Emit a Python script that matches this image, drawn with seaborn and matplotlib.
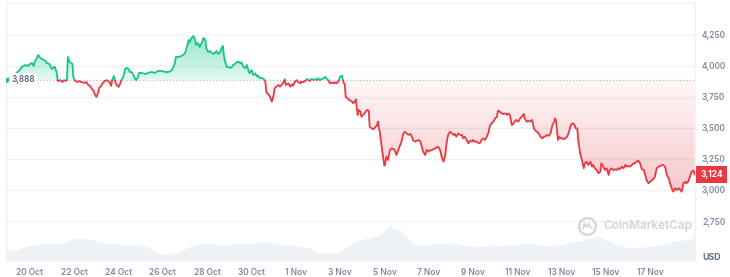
import numpy as np
import pandas as pd
import matplotlib
matplotlib.use("Agg")
import matplotlib.pyplot as plt
import matplotlib.dates as mdates
from matplotlib.patches import Rectangle
from matplotlib.colors import to_rgb
import seaborn as sns

# ---------------- data ----------------
base_date = "2025-10-20 00:00"
hours = [-26, -17, -11, -9, -5, -2, 0, 2, 4, 5, 8, 9, 11, 13, 15, 17, 18, 21, 22, 24, 26, 27, 29, 30, 33, 35, 37, 39, 40,
         41, 43, 46, 47, 49, 51, 53, 55, 59, 61, 63, 65, 67, 69, 70, 72, 74, 75, 77, 79, 81, 83, 86, 88, 89, 91, 93, 96,
         98, 99, 101, 103, 105, 107, 108, 110, 112, 114, 115, 117, 118, 121, 125, 128, 132, 135, 139, 143, 146, 150,
         153, 155, 157, 158, 161, 164, 166, 168, 170, 172, 173, 175, 177, 179, 180, 182, 184, 186, 188, 190, 191, 193,
         195, 197, 199, 200, 202, 204, 206, 208, 209, 210, 211, 213, 215, 217, 219, 220, 222, 224, 226, 228, 229, 231,
         233, 235, 237, 238, 240, 242, 244, 246, 247, 249, 251, 253, 254, 255, 256, 257, 259, 260, 262, 263, 264, 265,
         267, 269, 271, 273, 274, 276, 277, 280, 282, 284, 285, 287, 289, 291, 293, 294, 296, 298, 300, 302, 303, 305,
         307, 309, 311, 312, 314, 316, 318, 320, 321, 323, 325, 327, 329, 331, 332, 334, 336, 338, 340, 341, 342, 345,
         349, 350, 352, 353, 355, 356, 358, 359, 361, 363, 365, 367, 368, 370, 372, 374, 376, 377, 378, 379, 381, 383,
         384, 385, 386, 388, 390, 392, 394, 395, 397, 399, 401, 403, 404, 406, 408, 410, 412, 413, 415, 417, 419, 421,
         423, 424, 426, 428, 430, 432, 433, 435, 437, 439, 441, 442, 444, 446, 448, 450, 451, 453, 455, 457, 459, 460,
         462, 464, 466, 468, 469, 471, 473, 475, 477, 479, 480, 482, 484, 486, 488, 489, 491, 493, 495, 497, 498, 500,
         502, 504, 506, 507, 509, 511, 513, 515, 517, 518, 520, 522, 524, 525, 527, 529, 531, 533, 535, 536, 538, 540,
         542, 544, 546, 547, 549, 551, 553, 555, 557, 558, 560, 562, 564, 566, 568, 569, 570, 572, 573, 575, 577, 578,
         580, 582, 584, 586, 588, 590, 591, 593, 594, 596, 598, 600, 601, 603, 605, 607, 609, 610, 612, 614, 616, 618,
         619, 621, 623, 625, 627, 628, 630, 632, 634, 636, 637, 639, 641, 643, 645, 646, 648, 650, 652, 654, 655, 657,
         659, 661, 663, 665, 666, 668, 670, 672, 674, 676, 677, 679, 681, 683, 685, 686, 688, 690, 692, 694, 696, 697,
         699, 701, 703, 704, 706, 708, 710, 711, 713, 715, 717, 719, 720]
price = [3887, 3927, 3968, 3992, 4008, 4000, 4016, 4024, 4000, 4032, 4073, 4089, 4065, 4056, 4048, 4040, 4024, 4016,
         4000, 3976, 3992, 3992, 3944, 3879, 3887, 3871, 3887, 3879, 3887, 4073, 4032, 4016, 3911, 3879, 3871, 3879,
         3871, 3863, 3871, 3847, 3839, 3815, 3798, 3774, 3750, 3790, 3823, 3839, 3863, 3879, 3887, 3871, 3839, 3887,
         3919, 3855, 3831, 3863, 3887, 3911, 3976, 3984, 3976, 3952, 3952, 3927, 3895, 3887, 3911, 3944, 3944, 3935,
         3944, 3952, 3944, 3960, 3960, 3952, 3952, 3960, 3984, 4024, 4073, 4073, 4081, 4089, 4105, 4153, 4210, 4194,
         4226, 4242, 4210, 4169, 4185, 4153, 4185, 4226, 4210, 4145, 4113, 4121, 4105, 4097, 4105, 4121, 4097, 4113,
         4153, 4161, 4089, 4048, 3992, 3992, 3984, 3992, 4008, 4016, 4030, 4035, 4022, 4030, 3995, 3981, 4008, 3954,
         3941, 3968, 3927, 3941, 3914, 3922, 3901, 3906, 3895, 3887, 3873, 3793, 3780, 3766, 3752, 3712, 3740, 3766,
         3820, 3833, 3847, 3833, 3852, 3860, 3895, 3847, 3860, 3833, 3852, 3841, 3873, 3887, 3868, 3860, 3873, 3868,
         3879, 3895, 3887, 3879, 3895, 3887, 3895, 3887, 3901, 3887, 3895, 3901, 3914, 3901, 3887, 3860, 3868, 3860,
         3868, 3860, 3873, 3914, 3922, 3860, 3855, 3752, 3731, 3712, 3699, 3712, 3731, 3605, 3645, 3632, 3591, 3605,
         3624, 3645, 3640, 3511, 3497, 3489, 3505, 3524, 3551, 3497, 3470, 3349, 3242, 3196, 3215, 3269, 3242, 3323,
         3336, 3328, 3323, 3282, 3323, 3363, 3403, 3444, 3470, 3457, 3444, 3452, 3444, 3403, 3390, 3398, 3403, 3390,
         3363, 3309, 3282, 3323, 3309, 3317, 3323, 3328, 3336, 3344, 3349, 3328, 3269, 3228, 3282, 3363, 3444, 3470,
         3457, 3444, 3452, 3430, 3457, 3444, 3444, 3417, 3430, 3403, 3377, 3398, 3390, 3403, 3390, 3390, 3377, 3382,
         3403, 3417, 3403, 3430, 3470, 3511, 3538, 3551, 3578, 3591, 3640, 3632, 3618, 3613, 3618, 3605, 3618, 3605,
         3524, 3538, 3551, 3565, 3551, 3578, 3591, 3613, 3578, 3551, 3559, 3551, 3565, 3497, 3484, 3470, 3457, 3430,
         3417, 3430, 3430, 3444, 3436, 3457, 3524, 3551, 3578, 3551, 3403, 3430, 3417, 3417, 3409, 3417, 3430, 3470,
         3524, 3538, 3524, 3497, 3497, 3403, 3296, 3242, 3175, 3215, 3228, 3202, 3228, 3188, 3202, 3175, 3161, 3135,
         3148, 3215, 3188, 3161, 3175, 3121, 3161, 3175, 3161, 3167, 3161, 3175, 3167, 3188, 3175, 3202, 3188, 3194,
         3188, 3202, 3215, 3215, 3228, 3236, 3215, 3167, 3161, 3135, 3081, 3054, 3067, 3081, 3094, 3107, 3175, 3188,
         3194, 3202, 3202, 3188, 3121, 3094, 3040, 3000, 2986, 3014, 3000, 3014, 3006, 2986, 3054, 3067, 3054, 3067,
         3107, 3148, 3157, 3124]

vol_hours = [-26, -14, -3, 3, 14, 25, 36, 43, 51, 62, 73, 83, 94, 105, 116, 127, 133, 141, 152, 163, 173, 184, 195,
             206, 217, 228, 238, 249, 260, 271, 282, 293, 303, 314, 325, 336, 347, 358, 368, 379, 387, 390, 393, 401,
             408, 415, 426, 437, 447, 458, 469, 480, 491, 498, 509, 520, 531, 542, 553, 563, 574, 585, 596, 607, 615,
             625, 636, 647, 658, 669, 679, 690, 701, 712, 720]
volume = [10, 10.7, 14, 15, 16.7, 16, 16.7, 20, 21.7, 21, 19, 16.7, 16, 15, 15, 13.3, 10, 6, 6, 9.3, 13.3, 16.7, 17.3,
          15, 16, 16.7, 16, 17.3, 18.3, 16, 15, 13.3, 11.7, 7.3, 6.7, 8.3, 15, 20.7, 21.7, 25, 31.7, 35, 31.7, 30,
          23.3, 16.7, 15, 16, 16.7, 17.3, 15, 13.3, 13.3, 15, 14, 15, 16, 16.7, 15, 14, 15, 17.3, 19.3, 21.7, 24, 20,
          15, 12.7, 12.7, 13.3, 15, 16.7, 19.3, 20.3, 21.7]

open_price = 3888
last_price = 3124
y_ticks = [2750, 3000, 3250, 3500, 3750, 4000, 4250]
x_tick_dates = ["2025-10-20", "2025-10-22", "2025-10-24", "2025-10-26", "2025-10-28", "2025-10-30",
                "2025-11-01", "2025-11-03", "2025-11-05", "2025-11-07", "2025-11-09", "2025-11-11",
                "2025-11-13", "2025-11-15", "2025-11-17"]
x_tick_labels = ["20 Oct", "22 Oct", "24 Oct", "26 Oct", "28 Oct", "30 Oct", "1 Nov", "3 Nov", "5 Nov",
                 "7 Nov", "9 Nov", "11 Nov", "13 Nov", "15 Nov", "17 Nov"]
currency = "USD"
watermark = "CoinMarketCap"

# ---------------- style ----------------
sns.set_theme(style="white")
plt.rcParams["font.family"] = ["Inter", "DejaVu Sans"]

GREEN = "#16c784"
RED = "#ea3943"
AXIS_TXT = "#808a9d"
GRID = "#eff2f5"

t0 = pd.Timestamp(base_date)
df = pd.DataFrame({"time": t0 + pd.to_timedelta(hours, unit="h"), "price": price})
dv = pd.DataFrame({"time": t0 + pd.to_timedelta(vol_hours, unit="h"), "volume": volume})

x_min = t0 - pd.Timedelta(hours=26)
x_max = t0 + pd.Timedelta(hours=720.5)
y_min, y_max = 2435.5, 4508

fig = plt.figure(figsize=(7.3, 2.77), dpi=100)
pos = [6 / 730, 17 / 277, 689 / 730, 257 / 277]
axv = fig.add_axes(pos)
ax = fig.add_axes(pos, sharex=axv)
ax.patch.set_alpha(0)

# volume area (behind)
axv.fill_between(dv["time"], 0, dv["volume"], color="#eef1f5", lw=0)
axv.set_ylim(0, 257)
axv.axis("off")

# price lines (green above open, red below)
sns.lineplot(data=df, x="time", y="price", ax=ax, color=GREEN, lw=1.3, estimator=None, zorder=4)
line_g = ax.lines[-1]
sns.lineplot(data=df, x="time", y="price", ax=ax, color=RED, lw=1.3, estimator=None, zorder=4)
line_r = ax.lines[-1]

xn0, xn1 = mdates.date2num(x_min), mdates.date2num(x_max)
rect_up = Rectangle((xn0, open_price), xn1 - xn0, y_max - open_price, transform=ax.transData)
rect_dn = Rectangle((xn0, y_min), xn1 - xn0, open_price - y_min, transform=ax.transData)
line_g.set_clip_path(rect_up)
line_r.set_clip_path(rect_dn)

# gradient fill between price and open
poly = ax.fill_between(df["time"], df["price"], open_price, color="none", lw=0)
ny = 500
vals = np.linspace(y_max, y_min, ny)
rgba = np.zeros((ny, 1, 4))
above = vals >= open_price
d_up = np.clip((vals - open_price) / 360.0, 0, 1)
d_dn = np.clip((open_price - vals) / 900.0, 0, 1)
rgba[above, 0, :3] = to_rgb(GREEN)
rgba[above, 0, 3] = 0.12 + 0.33 * d_up[above]
rgba[~above, 0, :3] = to_rgb(RED)
rgba[~above, 0, 3] = 0.04 + 0.24 * d_dn[~above]
im = ax.imshow(rgba, extent=[xn0, xn1, y_min, y_max], aspect="auto", origin="upper",
               interpolation="bilinear", zorder=2)
im.set_clip_path(poly.get_paths()[0], transform=ax.transData)

# open price dotted line
ax.axhline(open_price, color="#b4b9c2", lw=0.8, ls=(0, (1, 2)), zorder=3)

# start dot
ax.plot(df["time"].iloc[:1], df["price"].iloc[:1], marker="o", ms=2.5, color=GREEN, zorder=5)

ax.set_xlim(x_min, x_max)
ax.set_ylim(y_min, y_max)

# grid & ticks
ax.set_axisbelow(True)
ax.yaxis.grid(True, color=GRID, lw=1.0)
ax.xaxis.grid(False)
ax.yaxis.tick_right()
ax.set_yticks(y_ticks)
ax.set_yticklabels([f"{v:,}" for v in y_ticks])
ax.set_xticks(pd.to_datetime(x_tick_dates))
ax.set_xticklabels(x_tick_labels)
ax.tick_params(axis="y", length=0, pad=5, labelsize=6, labelcolor=AXIS_TXT)
ax.tick_params(axis="x", length=0, pad=6, labelsize=6, labelcolor=AXIS_TXT)
for lab in ax.get_xticklabels() + ax.get_yticklabels():
    lab.set_fontweight("semibold")
ax.set_xlabel("")
ax.set_ylabel("")
for s in ax.spines.values():
    s.set_color(GRID)
    s.set_linewidth(1.0)

# open price label
ax.text(0.0075, open_price, f"{open_price:,}", transform=ax.get_yaxis_transform(), ha="left", va="center",
        fontsize=6, fontweight="semibold", color="#58667e", zorder=6,
        bbox=dict(boxstyle="square,pad=0.25", fc="white", ec="none"))

# last price badge
ax.text(1.0078, last_price, f"{last_price:,}", transform=ax.get_yaxis_transform(), ha="left", va="center",
        fontsize=6, fontweight="bold", color="white", zorder=6, clip_on=False,
        bbox=dict(boxstyle="square,pad=0.5", fc=RED, ec="none"))

# currency label
fig.text(712 / 730, 1 - 257 / 277, currency, ha="center", va="center", fontsize=6.3, fontweight="bold",
         color="#616e85")

# watermark
WM = "#cfd5de"
ax.text((603 - 6) / 689, (260 - 225.5) / 257, watermark, transform=ax.transAxes, ha="left", va="center",
        fontsize=8.5, fontweight="semibold", color=WM, zorder=1)
cx, cy = (587.5 - 6) / 689, (260 - 225.5) / 257
ax.plot([cx], [cy], marker="o", ms=12, mfc="none", mec=WM, mew=1.6, transform=ax.transAxes, zorder=1)
wave = [(-4.5, -3), (-3, 2), (-1, -1.5), (1, 2), (2.5, -1.5), (4.5, -2.5)]
ax.plot([cx + dx / 689 for dx, dy in wave], [cy + dy / 257 for dx, dy in wave], color=WM, lw=1.3,
        transform=ax.transAxes, zorder=1, solid_capstyle="round")

fig.savefig("out.png", dpi=100)
